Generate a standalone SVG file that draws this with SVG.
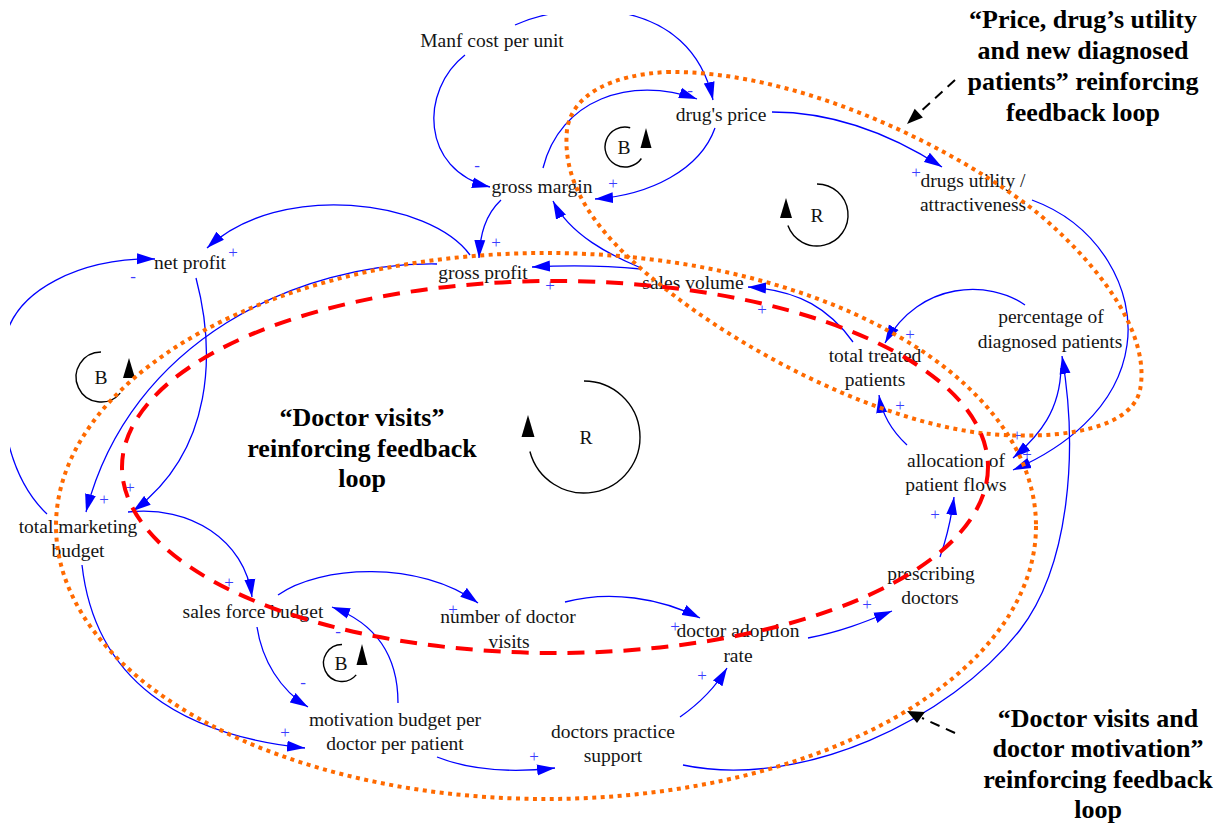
<svg xmlns="http://www.w3.org/2000/svg" width="1224" height="823" viewBox="0 0 1224 823">
  <defs>
    <style>
      .node text { font-family: "Liberation Serif", "Times New Roman", serif; font-size: 19.5px; fill: #151515; text-anchor: middle; }
      .link { fill: none; stroke: #0000ff; stroke-width: 1.3; marker-end: url(#arrow); }
      .sign { font-family: "Liberation Serif", "Times New Roman", serif; font-size: 17px; fill: #3b3bff; text-anchor: middle; }
      .loopmark { fill: none; stroke: #000; stroke-width: 1.4; }
      .loopmark-head { fill: #000; }
      .loopmark-label { font-family: "Liberation Serif", "Times New Roman", serif; font-size: 19.5px; fill: #111; text-anchor: middle; }
      .outline-orange { fill: none; stroke: #ff6a00; stroke-width: 4; stroke-dasharray: 4 4.5; }
      .outline-red { fill: none; stroke: #ff0000; stroke-width: 4; stroke-dasharray: 17 11; }
      .note { font-family: "Liberation Serif", "Times New Roman", serif; font-size: 26px; font-weight: bold; fill: #000; text-anchor: middle; }
      .pointer { fill: none; stroke: #000; stroke-width: 2; stroke-dasharray: 10 7; }
    </style>
    <marker id="arrow" markerUnits="userSpaceOnUse" markerWidth="18" markerHeight="12" viewBox="0 0 18 12" refX="18" refY="6" orient="auto">
      <path d="M0,0.5 L18,6 L0,11.5 z" fill="#0000ff"/>
    </marker>
    <clipPath id="frame">
      <rect x="10" y="15" width="1214" height="808"/>
    </clipPath>
  </defs>

  <rect width="1224" height="823" fill="#ffffff"/>

  <!-- causal links -->
  <g id="connectors" clip-path="url(#frame)">
    <path class="link" d="M 515,25 C 570,0 690,-5 713,100"/>
    <path class="link" d="M 465,55 C 420,90 420,170 490,187"/>
    <path class="link" d="M 543,168 C 560,100 630,75 697,99"/>
    <path class="link" d="M 715,128 C 700,170 650,195 595,199"/>
    <path class="link" d="M 772,112 C 840,112 900,140 942,167"/>
    <path class="link" d="M 1032,200 C 1100,225 1135,290 1127,345 C 1118,410 1060,450 1013,470"/>
    <path class="link" d="M 1061,368 C 1060,410 1040,435 1013,458"/>
    <path class="link" d="M 1025,305 C 990,280 920,280 885,343"/>
    <path class="link" d="M 907,445 C 893,432 882,415 879,395"/>
    <path class="link" d="M 853,342 C 830,310 800,290 748,287"/>
    <path class="link" d="M 641,269 C 610,266 570,265 532,267"/>
    <path class="link" d="M 641,268 C 610,255 570,235 553,201"/>
    <path class="link" d="M 501,200 C 485,215 480,235 479,258"/>
    <path class="link" d="M 470,255 C 430,200 280,180 207,248"/>
    <path class="link" d="M 437,264 C 300,262 130,340 86,512"/>
    <path class="link" d="M 196,278 C 215,350 215,450 133,511"/>
    <path class="link" d="M 47,514 C 0,470 -5,380 5,340 C 15,290 80,258 155,259"/>
    <path class="link" d="M 128,512 C 190,505 245,540 252,597"/>
    <path class="link" d="M 82,565 C 95,680 180,735 305,748"/>
    <path class="link" d="M 278,595 C 320,565 420,560 478,603"/>
    <path class="link" d="M 257,627 C 262,660 280,690 308,707"/>
    <path class="link" d="M 398,703 C 398,660 380,625 332,607"/>
    <path class="link" d="M 437,757 C 470,770 510,773 555,768"/>
    <path class="link" d="M 565,602 C 610,590 660,598 700,618"/>
    <path class="link" d="M 680,717 C 700,703 715,688 727,668"/>
    <path class="link" d="M 808,638 C 840,632 865,622 892,611"/>
    <path class="link" d="M 940,557 C 946,540 951,520 954,497"/>
    <path class="link" d="M 683,765 C 800,790 950,720 1020,630 C 1070,565 1078,450 1062,356"/>
  </g>

  <!-- link polarities -->
  <g id="polarities">
    <text class="sign" x="477" y="171">-</text>
    <text class="sign" x="690" y="96">-</text>
    <text class="sign" x="613" y="189">+</text>
    <text class="sign" x="916" y="178">+</text>
    <text class="sign" x="1017" y="441">+</text>
    <text class="sign" x="1027" y="460">+</text>
    <text class="sign" x="910" y="340">+</text>
    <text class="sign" x="900" y="411">+</text>
    <text class="sign" x="762" y="315">+</text>
    <text class="sign" x="550" y="291">+</text>
    <text class="sign" x="496" y="248">+</text>
    <text class="sign" x="233" y="258">+</text>
    <text class="sign" x="133" y="282">-</text>
    <text class="sign" x="104" y="505">+</text>
    <text class="sign" x="130" y="493">+</text>
    <text class="sign" x="229" y="588">+</text>
    <text class="sign" x="453" y="615">+</text>
    <text class="sign" x="303" y="688">-</text>
    <text class="sign" x="338" y="637">-</text>
    <text class="sign" x="285" y="738">+</text>
    <text class="sign" x="534" y="762">+</text>
    <text class="sign" x="675" y="632">+</text>
    <text class="sign" x="702" y="681">+</text>
    <text class="sign" x="867" y="610">+</text>
    <text class="sign" x="935" y="520">+</text>
  </g>

  <!-- variables -->
  <g id="manf-cost" class="node"><text x="492" y="47">Manf cost per unit</text></g>
  <g id="drugs-price" class="node"><text x="721" y="121">drug's price</text></g>
  <g id="gross-margin" class="node"><text x="542" y="193">gross margin</text></g>
  <g id="drugs-utility" class="node">
    <text x="973" y="187">drugs utility /</text>
    <text x="973" y="211">attractiveness</text>
  </g>
  <g id="net-profit" class="node"><text x="190" y="269">net profit</text></g>
  <g id="gross-profit" class="node"><text x="483" y="279">gross profit</text></g>
  <g id="sales-volume" class="node"><text x="693" y="289">sales volume</text></g>
  <g id="pct-diagnosed" class="node">
    <text x="1051" y="323">percentage of</text>
    <text x="1050" y="348">diagnosed patients</text>
  </g>
  <g id="total-treated" class="node">
    <text x="875" y="362">total treated</text>
    <text x="875" y="386">patients</text>
  </g>
  <g id="allocation" class="node">
    <text x="956" y="467">allocation of</text>
    <text x="956" y="491">patient flows</text>
  </g>
  <g id="marketing-budget" class="node">
    <text x="78" y="533">total marketing</text>
    <text x="78" y="557">budget</text>
  </g>
  <g id="sales-force-budget" class="node"><text x="253" y="618">sales force budget</text></g>
  <g id="doctor-visits" class="node">
    <text x="508" y="623">number of doctor</text>
    <text x="509" y="648">visits</text>
  </g>
  <g id="adoption-rate" class="node">
    <text x="738" y="637">doctor adoption</text>
    <text x="738" y="662">rate</text>
  </g>
  <g id="prescribing" class="node">
    <text x="931" y="580">prescribing</text>
    <text x="930" y="604">doctors</text>
  </g>
  <g id="motivation-budget" class="node">
    <text x="395" y="726">motivation budget per</text>
    <text x="395" y="750">doctor per patient</text>
  </g>
  <g id="practice-support" class="node">
    <text x="613" y="738">doctors practice</text>
    <text x="613" y="762">support</text>
  </g>

  <!-- loop polarity markers -->
  <g id="loop-b-price">
    <path class="loopmark" d="M 630.2,127.7 A 20,20 0 1,0 641.4,158.5"/>
    <polygon class="loopmark-head" points="646,128 651.5,148 640.5,148"/>
    <text class="loopmark-label" x="624" y="154">B</text>
  </g>
  <g id="loop-r-utility">
    <path class="loopmark" d="M 817,184 A 31,31 0 1,1 787.9,225.6"/>
    <polygon class="loopmark-head" points="786,198 792,218 780,218"/>
    <text class="loopmark-label" x="817" y="222">R</text>
  </g>
  <g id="loop-b-profit">
    <path class="loopmark" d="M 101,352 A 25,25 0 1,0 120.2,393.1"/>
    <polygon class="loopmark-head" points="129,358 135,378 123,378"/>
    <text class="loopmark-label" x="101" y="384">B</text>
  </g>
  <g id="loop-r-visits">
    <path class="loopmark" d="M 584,381 A 56,56 0 1,1 529.9,451.5"/>
    <polygon class="loopmark-head" points="528,415 534.5,437 521.5,437"/>
    <text class="loopmark-label" x="586" y="444">R</text>
  </g>
  <g id="loop-b-motivation">
    <path class="loopmark" d="M 342,644.5 A 18.5,18.5 0 1,0 356.2,674.9"/>
    <polygon class="loopmark-head" points="362,644 367.5,665 356.5,665"/>
    <text class="loopmark-label" x="341" y="670">B</text>
  </g>

  <!-- highlighted feedback loops -->
  <g id="loop-outlines">
    <path class="outline-orange" d="M 667,72 C 800,70 960,150 1040,215 C 1110,275 1150,340 1140,390 C 1130,435 1040,440 980,433 C 880,420 760,360 680,300 C 620,255 560,200 567,130 C 572,95 610,75 667,72 Z"/>
    <ellipse class="outline-orange" cx="546" cy="526" rx="490" ry="273"/>
    <ellipse class="outline-red" cx="555" cy="467" rx="433" ry="186"/>
  </g>

  <!-- loop descriptions -->
  <g id="note-price">
    <text class="note" x="1083" y="28">“Price, drug’s utility</text>
    <text class="note" x="1083" y="59">and new diagnosed</text>
    <text class="note" x="1083" y="90">patients” reinforcing</text>
    <text class="note" x="1083" y="121">feedback loop</text>
    <path class="pointer" d="M 955,80 L 919,113"/>
    <polygon points="907,124 914.7,108.8 922.9,117.6" fill="#000"/>
  </g>
  <g id="note-visits">
    <text class="note" x="362" y="426">“Doctor visits”</text>
    <text class="note" x="362" y="457">reinforcing feedback</text>
    <text class="note" x="362" y="487">loop</text>
  </g>
  <g id="note-motivation">
    <text class="note" x="1098" y="727">“Doctor visits and</text>
    <text class="note" x="1098" y="757">doctor motivation”</text>
    <text class="note" x="1098" y="788">reinforcing feedback</text>
    <text class="note" x="1098" y="818">loop</text>
    <path class="pointer" d="M 955,733 L 922,718"/>
    <polygon points="907,711 925,712 917,723" fill="#000"/>
  </g>
</svg>
